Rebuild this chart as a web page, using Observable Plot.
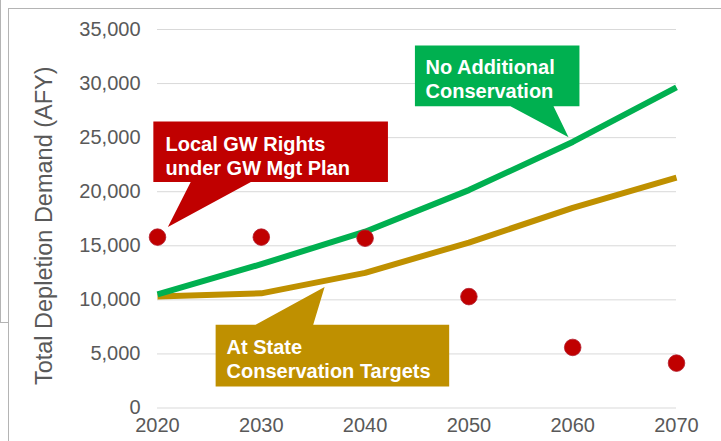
<!DOCTYPE html>
<html>
<head>
<meta charset="utf-8">
<script src="https://cdn.jsdelivr.net/npm/d3@7"></script>
<script src="https://cdn.jsdelivr.net/npm/@observablehq/plot@0.6"></script>
<style>
  html, body { margin: 0; padding: 0; background: #fff; }
  #wrap { position: relative; width: 721px; height: 441px; overflow: hidden; background: #fff; }
  #wrap svg { position: absolute; left: 0; top: 0; }
  .fr { position: absolute; background: #b4b4b4; }
</style>
</head>
<body>
<div id="wrap">
  <div class="fr" style="left:8px;top:8px;width:713px;height:1px;"></div>
  <div class="fr" style="left:8px;top:8px;width:1px;height:433px;"></div>
  <div class="fr" style="left:0px;top:0px;width:1px;height:322px;"></div>
  <div class="fr" style="left:0px;top:322px;width:9px;height:1px;"></div>
</div>
<script>
// ---- data ----
const years = [2020, 2030, 2040, 2050, 2060, 2070];
const noAdditionalConservation = [10500, 13300, 16300, 20150, 24600, 29650];
const stateConservationTargets = [10300, 10600, 12500, 15300, 18500, 21300];
const localGWRights = [15800, 15800, 15700, 10300, 5600, 4150];
const yTicks = [0, 5000, 10000, 15000, 20000, 25000, 30000, 35000];
const yTitle = "Total Depletion Demand (AFY)";

// ---- callout annotations (data space) ----
const redLabel = "Local GW Rights\nunder GW Mgt Plan";
const greenLabel = "No Additional\nConservation";
const goldLabel = "At State\nConservation Targets";
const redShape = [[2019.6,26500],[2042.2,26500],[2042.2,20890],[2029.0,20890],[2021.0,16740],[2023.2,20890],[2019.6,20890],[2019.6,26500]];
const greenShape = [[2044.8,33520],[2060.65,33520],[2060.65,27900],[2058.15,27900],[2059.6,25040],[2054.0,27900],[2044.8,27900],[2044.8,33520]];
const goldShape = [[2025.6,7700],[2029.45,7700],[2036.1,11200],[2035.0,7700],[2048.1,7700],[2048.1,1980],[2025.6,1980],[2025.6,7700]];
const redText = [2020.77, 25300];
const greenText = [2045.82, 32420];
const goldText = [2026.65, 6530];

const green = "#00B050", gold = "#BF9000", red = "#C00000";

const seriesA = years.map((x, i) => ({x, y: noAdditionalConservation[i]}));
const seriesB = years.map((x, i) => ({x, y: stateConservationTargets[i]}));
const seriesC = years.map((x, i) => ({x, y: localGWRights[i]}));
const toPts = s => s.map(([x, y]) => ({x, y}));

const font = "'Liberation Sans', Arial, Helvetica, sans-serif";
const labelText = (pos, txt) => Plot.text([{x: pos[0], y: pos[1], t: txt}], {
  x: "x", y: "y", text: "t", textAnchor: "start", lineAnchor: "top",
  fill: "#fff", fontWeight: "bold", fontSize: 20, lineHeight: 1.18
});

const chart = Plot.plot({
  width: 721, height: 441,
  marginLeft: 157, marginRight: 45, marginTop: 29, marginBottom: 33.5,
  style: {fontFamily: font, fontSize: "20px", color: "#595959", background: "transparent", overflow: "visible"},
  x: {domain: [2020, 2070]},
  y: {domain: [0, 35000]},
  marks: [
    Plot.gridY(yTicks, {stroke: "#d9d9d9", strokeOpacity: 1, strokeWidth: 1}),
    Plot.axisY(yTicks, {tickSize: 0, tickPadding: 17, tickFormat: d3.format(","), label: null, fontSize: 20, fill: "#595959"}),
    Plot.axisX(years, {tickSize: 0, tickPadding: 10, tickFormat: d => String(d), label: null, fontSize: 20, fill: "#595959"}),
    Plot.text([yTitle], {frameAnchor: "left", textAnchor: "middle", lineAnchor: "middle", dx: -113, dy: 7, rotate: -90, fontSize: 23.5, fill: "#595959"}),
    Plot.line(seriesB, {x: "x", y: "y", stroke: gold, strokeWidth: 6, strokeLinecap: "butt", strokeLinejoin: "round"}),
    Plot.line(seriesA, {x: "x", y: "y", stroke: green, strokeWidth: 6, strokeLinecap: "butt", strokeLinejoin: "round"}),
    Plot.dot(seriesC, {x: "x", y: "y", r: 8.3, fill: red, stroke: "#b32030", strokeWidth: 0.8}),
    Plot.line(toPts(redShape), {x: "x", y: "y", fill: red, stroke: "none", curve: "linear"}),
    Plot.line(toPts(greenShape), {x: "x", y: "y", fill: green, stroke: "none", curve: "linear"}),
    Plot.line(toPts(goldShape), {x: "x", y: "y", fill: gold, stroke: "none", curve: "linear"}),
    labelText(redText, redLabel),
    labelText(greenText, greenLabel),
    labelText(goldText, goldLabel)
  ]
});
document.getElementById("wrap").prepend(chart);
</script>
</body>
</html>
